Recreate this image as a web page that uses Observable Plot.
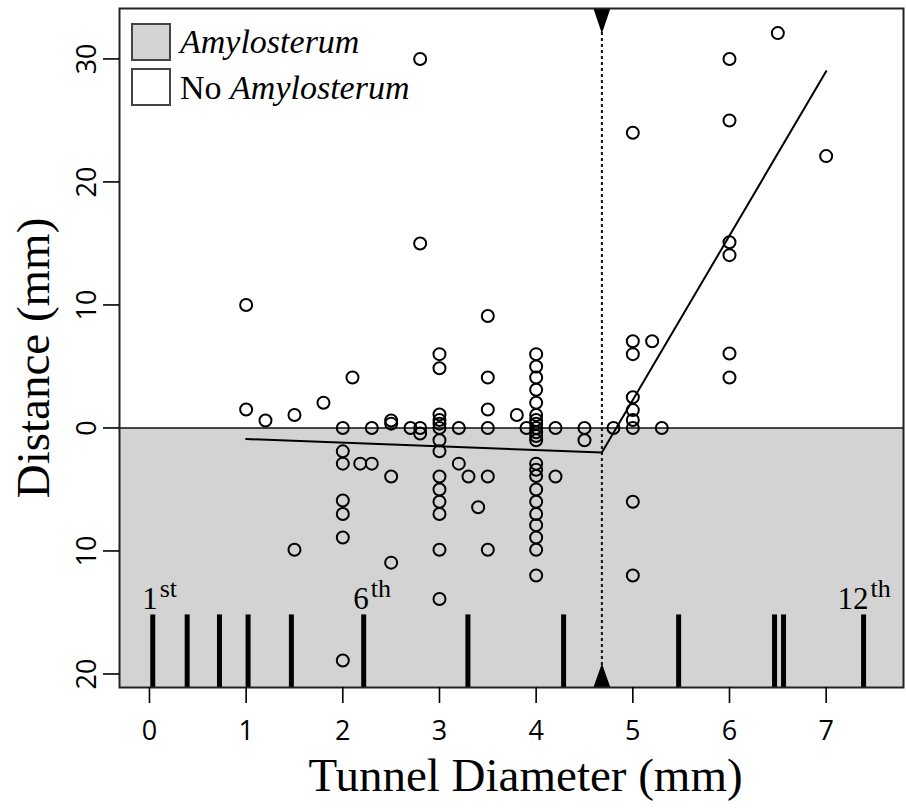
<!DOCTYPE html>
<html><head><meta charset="utf-8">
<script src="https://cdn.jsdelivr.net/npm/d3@7"></script>
<script src="https://cdn.jsdelivr.net/npm/@observablehq/plot@0.6"></script>
<style>
body{margin:0;background:#fff;}
#wrap{position:relative;width:906px;height:808px;}
#wrap svg{display:block;}
.sw{position:absolute;left:131px;width:36px;height:34px;border:2px solid #444;}
.lt{position:absolute;left:180px;font-family:"Liberation Serif",serif;font-size:34px;line-height:1;white-space:nowrap;color:#000;}
</style></head>
<body><div id="wrap"></div>
<script>
// ---- data ----
const diameter = [
  1.0, 1.0,
  1.2,
  1.5, 1.5,
  1.8,
  2.0, 2.0, 2.0, 2.0, 2.0, 2.0, 2.0,
  2.1,
  2.18,
  2.3, 2.3,
  2.5, 2.5, 2.5, 2.5,
  2.7,
  2.8, 2.8, 2.8, 2.8,
  3.0, 3.0, 3.0, 3.0, 3.0, 3.0, 3.0, 3.0, 3.0, 3.0, 3.0, 3.0, 3.0, 3.0,
  3.2, 3.2,
  3.3,
  3.4,
  3.5, 3.5, 3.5, 3.5, 3.5, 3.5,
  3.8,
  3.9,
  4.0, 4.0, 4.0, 4.0, 4.0, 4.0, 4.0, 4.0, 4.0, 4.0, 4.0, 4.0, 4.0, 4.0, 4.0, 4.0, 4.0, 4.0, 4.0, 4.0, 4.0, 4.0,
  4.2, 4.2,
  4.5, 4.5,
  4.8,
  5.0, 5.0, 5.0, 5.0, 5.0, 5.0, 5.0, 5.0, 5.0,
  5.2,
  5.3,
  6.0, 6.0, 6.0, 6.0, 6.0, 6.0,
  6.5,
  7.0
];
const distance = [
  10, 1.5,
  0.6,
  1.05, -9.9,
  2.05,
  0, -1.9, -2.9, -5.9, -7, -8.9, -18.9,
  4.1,
  -2.9,
  0, -2.9,
  0.6, 0.35, -3.95, -10.95,
  0,
  30, 15, 0, -0.45,
  6, 4.85, 1.1, 0.65, 0.35, 0, -1, -1.9, -3.95, -5, -6, -7, -9.9, -13.9,
  0, -2.9,
  -3.95,
  -6.45,
  9.1, 4.1, 1.5, 0, -3.95, -9.9,
  1.05,
  0,
  6, 5, 4.1, 3.1, 2.05, 1.05, 0.65, 0.35, 0, -0.35, -0.65, -1, -2.9, -3.4, -3.9, -5, -6, -7, -7.9, -8.9, -9.9, -12,
  0, -3.95,
  0, -1,
  0,
  24, 7.05, 6, 2.5, 1.45, 0.65, 0, -6, -12,
  7.05,
  0,
  30, 25, 15.1, 14.05, 6.05, 4.1,
  32.1,
  22.1
];
const fitLeftX = [1.0, 4.68];
const fitLeftY = [-0.9, -2.0];
const fitRightX = [4.68, 7.0];
const fitRightY = [-2.0, 29.0];
const breakpoint = 4.68;
const barX = [0.034, 0.39, 0.724, 1.02, 1.468, 2.216, 3.294, 4.284, 5.474, 6.466, 6.559, 7.387];
const barTop = -15.2;
const barLabels = [
  {i: 0, num: "1", sup: "st"},
  {i: 5, num: "6", sup: "th"},
  {i: 11, num: "12", sup: "th"}
];
const xTicks = [0, 1, 2, 3, 4, 5, 6, 7];
const yTicks = [-20, -10, 0, 10, 20, 30];
const yTickLabels = ["20", "10", "0", "10", "20", "30"];
const xDomain = [-0.31, 7.8];
const yDomain = [-21.1, 34.1];
const legendItems = [
  {fill: "#d3d3d3", html: "<i>Amylosterum</i>"},
  {fill: "#ffffff", html: "No <i>Amylosterum</i>"}
];

// ---- build ----
const points = diameter.map((d, i) => ({x: d, y: distance[i]}));
const fit = [
  ...fitLeftX.map((x, i) => ({seg: "a", x, y: fitLeftY[i]})),
  ...fitRightX.map((x, i) => ({seg: "b", x, y: fitRightY[i]}))
];
const triDown = {draw(ctx) { ctx.moveTo(-8.5, 0); ctx.lineTo(8.5, 0); ctx.lineTo(0, 25); ctx.closePath(); }};
const triUp = {draw(ctx) { ctx.moveTo(-8.5, 0); ctx.lineTo(8.5, 0); ctx.lineTo(0, -24); ctx.closePath(); }};
const serif = "Liberation Serif, Times New Roman, serif";
const sans = "Open Sans, DejaVu Sans, sans-serif";

const chart = Plot.plot({
  width: 906, height: 808,
  marginLeft: 119, marginRight: 3, marginTop: 8, marginBottom: 121,
  x: {domain: xDomain},
  y: {domain: yDomain},
  style: {background: "white", fontFamily: sans, overflow: "visible"},
  marks: [
    Plot.rect([0], {x1: () => xDomain[0], x2: () => xDomain[1], y1: () => yDomain[0], y2: () => 0, fill: "#d3d3d3"}),
    Plot.ruleY([0], {stroke: "#111", strokeWidth: 1.6}),
    Plot.ruleX([breakpoint], {x: d => d, stroke: "#111", strokeWidth: 2, strokeDasharray: "3,3"}),
    Plot.ruleX(barX, {x: d => d, y1: () => yDomain[0], y2: () => barTop, stroke: "#000", strokeWidth: 5}),
    Plot.line(fit, {x: "x", y: "y", z: "seg", stroke: "#000", strokeWidth: 2}),
    Plot.dot(points, {x: "x", y: "y", r: 6, stroke: "#000", strokeWidth: 2, fill: "none"}),
    Plot.dot([breakpoint], {x: d => d, frameAnchor: "top", symbol: triDown, fill: "#000", stroke: "none"}),
    Plot.dot([breakpoint], {x: d => d, frameAnchor: "bottom", symbol: triUp, fill: "#000", stroke: "none"}),
    Plot.frame({stroke: "#222", strokeWidth: 2}),
    Plot.axisX({ticks: xTicks, tickSize: 16, tickPadding: 17, fontSize: 27, label: null, strokeWidth: 1.6}),
    Plot.axisY({ticks: yTicks, tickSize: 16, tickFormat: () => "", label: null, strokeWidth: 1.6}),
    Plot.text(yTicks, {y: d => d, text: (d, i) => yTickLabels[i], frameAnchor: "left", dx: -32, rotate: -90,
      fontSize: 27, fontFamily: sans, textAnchor: "middle", lineAnchor: "middle"}),
    Plot.text(barLabels, {x: d => barX[d.i], y: () => barTop, text: d => d.num, textAnchor: "end", dx: 5, dy: -6,
      lineAnchor: "bottom", fontSize: 31, fontFamily: serif}),
    Plot.text(barLabels, {x: d => barX[d.i], y: () => barTop, text: d => d.sup, textAnchor: "start", dx: 7, dy: -18,
      lineAnchor: "bottom", fontSize: 26, fontFamily: serif}),
    Plot.text(["Tunnel Diameter (mm)"], {text: d => d, frameAnchor: "bottom", dx: 14, dy: 103, lineAnchor: "bottom",
      fontSize: 47, fontFamily: serif}),
    Plot.text(["Distance (mm)"], {text: d => d, frameAnchor: "left", dx: -71, dy: 10, rotate: -90, lineAnchor: "bottom",
      textAnchor: "middle", fontSize: 47, fontFamily: serif})
  ]
});
const wrap = document.getElementById("wrap");
wrap.appendChild(chart);
legendItems.forEach((item, k) => {
  const sw = document.createElement("div");
  sw.className = "sw";
  sw.style.top = (23 + 45 * k) + "px";
  sw.style.background = item.fill;
  wrap.appendChild(sw);
  const t = document.createElement("div");
  t.className = "lt";
  t.style.top = (24.6 + 46 * k) + "px";
  t.innerHTML = item.html;
  wrap.appendChild(t);
});
</script></body></html>
